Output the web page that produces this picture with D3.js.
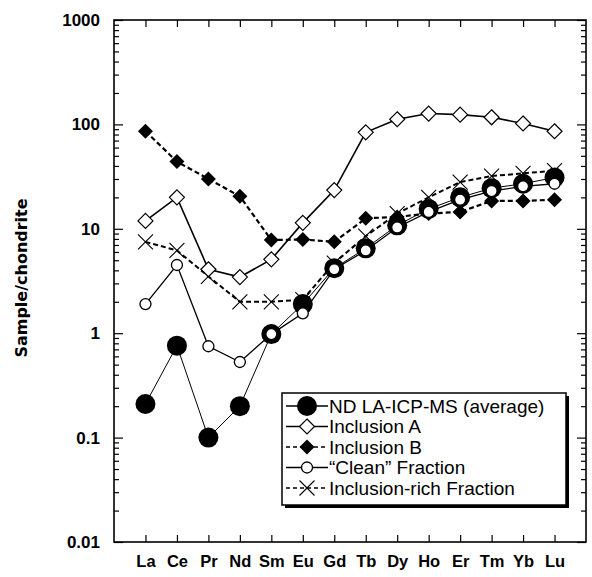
<!DOCTYPE html>
<html>
<head>
<meta charset="utf-8">
<script src="https://cdn.jsdelivr.net/npm/d3@7"></script>
<style>
  body { margin: 0; background: #fff; }
  svg { display: block; }
</style>
</head>
<body>
<div id="chart"></div>
<script>
// REE pattern, chondrite normalised
var elements = ["La", "Ce", "Pr", "Nd", "Sm", "Eu", "Gd", "Tb", "Dy", "Ho", "Er", "Tm", "Yb", "Lu"];
var ndAverage = [0.21, 0.76, 0.10, 0.20, 0.98, 1.9, 4.2, 6.5, 10.8, 15.5, 20, 24.5, 27, 31];
var inclusionA = [11.9, 20, 4.1, 3.45, 5.1, 11.4, 23.5, 84, 112, 127, 124, 117, 102, 86];
var inclusionB = [86, 44, 30, 20.5, 7.8, 7.9, 7.5, 12.6, 13, 14, 14.5, 18.5, 18.5, 19];
var cleanFraction = [1.9, 4.5, 0.75, 0.53, 0.98, 1.55, 4.1, 6.2, 10.3, 14.5, 19, 23, 25.5, 27];
var inclusionRich = [7.5, 6.2, 3.5, 2.0, 2.0, 2.1, 4.7, 8.5, 14, 20, 28, 32, 34, 36];
var majorTicks = [0.01, 0.1, 1, 10, 100, 1000];
var tickLabels = ["0.01", "0.1", "1", "10", "100", "1000"];

var width = 592, height = 577;
var margin = {top: 20, right: 6, bottom: 35, left: 114};

var svg = d3.select("#chart").append("svg")
    .attr("width", width)
    .attr("height", height);

var x = d3.scalePoint()
    .domain(elements)
    .range([margin.left, width - margin.right])
    .padding(1);

var y = d3.scaleLog()
    .domain([0.01, 1000])
    .range([height - margin.bottom, margin.top]);

// minor log ticks 2..9 of each decade
var minorTicks = [];
majorTicks.slice(0, -1).forEach(function(m) {
    for (var k = 2; k <= 9; k++) minorTicks.push(m * k);
});

var series = [
    {name: "Inclusion-rich Fraction", values: inclusionRich, marker: "x", dash: "5,3", width: 2},
    {name: "Inclusion B", values: inclusionB, marker: "diamondFilled", dash: "5,3", width: 2.2},
    {name: "ND LA-ICP-MS (average)", values: ndAverage, marker: "bigCircle", dash: null, width: 1},
    {name: "\u201cClean\u201d Fraction", values: cleanFraction, marker: "circle", dash: null, width: 1.3},
    {name: "Inclusion A", values: inclusionA, marker: "diamond", dash: null, width: 1.6}
];
var legendOrder = ["ND LA-ICP-MS (average)", "Inclusion A", "Inclusion B", "\u201cClean\u201d Fraction", "Inclusion-rich Fraction"];

function drawMarker(g, type) {
    if (type == "bigCircle") {
        g.append("circle").attr("r", 10).attr("fill", "#000");
    } else if (type == "circle") {
        g.append("circle").attr("r", 5.5).attr("fill", "#fff").attr("stroke", "#000").attr("stroke-width", 1.3);
    } else if (type == "diamond") {
        g.append("path").attr("d", "M0,-7.5L7.5,0L0,7.5L-7.5,0Z")
            .attr("fill", "#fff").attr("stroke", "#000").attr("stroke-width", 1.2);
    } else if (type == "diamondFilled") {
        g.append("path").attr("d", "M0,-7.5L7.5,0L0,7.5L-7.5,0Z").attr("fill", "#000");
    } else if (type == "x") {
        g.append("path").attr("d", "M-7.5,-7.5L7.5,7.5M-7.5,7.5L7.5,-7.5")
            .attr("stroke", "#000").attr("stroke-width", 1.1).attr("fill", "none");
    }
}

var line = d3.line()
    .x(function(d, i) { return x(elements[i]); })
    .y(function(d) { return y(d); });

var plot = svg.append("g");
series.forEach(function(s) {
    plot.append("path")
        .datum(s.values)
        .attr("d", line)
        .attr("fill", "none")
        .attr("stroke", "#000")
        .attr("stroke-width", s.width)
        .attr("stroke-dasharray", s.dash);
});
series.forEach(function(s) {
    plot.selectAll(null)
        .data(s.values)
        .enter().append("g")
        .attr("transform", function(d, i) { return "translate(" + x(elements[i]) + "," + y(d) + ")"; })
        .each(function() { drawMarker(d3.select(this), s.marker); });
});

// axes, all ticks pointing inward
var plotLeft = margin.left, plotRight = width - margin.right;
var plotTop = margin.top, plotBottom = height - margin.bottom;

svg.append("g")
    .attr("transform", "translate(" + plotLeft + ",0)")
    .call(d3.axisLeft(y).tickValues(majorTicks).tickSize(-9).tickPadding(14)
        .tickFormat(function(d, i) { return tickLabels[i]; }));
svg.append("g")
    .attr("transform", "translate(" + plotLeft + ",0)")
    .call(d3.axisLeft(y).tickValues(minorTicks).tickSize(-5).tickFormat(""));
svg.append("g")
    .attr("transform", "translate(" + plotRight + ",0)")
    .call(d3.axisRight(y).tickValues(majorTicks).tickSize(-9).tickFormat(""));
svg.append("g")
    .attr("transform", "translate(" + plotRight + ",0)")
    .call(d3.axisRight(y).tickValues(minorTicks).tickSize(-5).tickFormat(""));
svg.append("g")
    .attr("class", "xaxis")
    .attr("transform", "translate(0," + plotBottom + ")")
    .call(d3.axisBottom(x).tickSize(-7).tickPadding(13));
svg.append("g")
    .attr("transform", "translate(0," + plotTop + ")")
    .call(d3.axisTop(x).tickSize(-7).tickFormat(""));

svg.selectAll(".domain").remove();
svg.selectAll(".tick line").attr("stroke", "#000").attr("stroke-width", 1.2);
svg.selectAll(".tick text")
    .attr("fill", "#000")
    .style("font-family", "'Liberation Sans', Arial, sans-serif")
    .style("font-size", "17px")
    .style("font-weight", "bold");
svg.selectAll(".xaxis .tick text").style("font-size", "16.5px");

svg.append("rect")
    .attr("x", plotLeft).attr("y", plotTop)
    .attr("width", plotRight - plotLeft).attr("height", plotBottom - plotTop)
    .attr("fill", "none").attr("stroke", "#000").attr("stroke-width", 1.6);

svg.append("text")
    .attr("transform", "translate(27," + ((plotTop + plotBottom) / 2 - 3) + ") rotate(-90)")
    .attr("text-anchor", "middle")
    .style("font-family", "'DejaVu Sans', sans-serif")
    .style("font-size", "16px")
    .style("font-weight", "bold")
    .text("Sample/chondrite");

// legend with drop shadow
var lx = 282, ly = 393, lw = 284, lh = 112;
var legend = svg.append("g");
legend.append("rect").attr("x", lx + 3).attr("y", ly + 3).attr("width", lw).attr("height", lh).attr("fill", "#000");
legend.append("rect").attr("x", lx).attr("y", ly).attr("width", lw).attr("height", lh)
    .attr("fill", "#fff").attr("stroke", "#000").attr("stroke-width", 1.5);

legendOrder.forEach(function(name, i) {
    var s = series.filter(function(d) { return d.name == name; })[0];
    var row = legend.append("g").attr("transform", "translate(" + lx + "," + (ly + 13 + i * 20.5) + ")");
    row.append("line")
        .attr("x1", 4).attr("x2", 46)
        .attr("stroke", "#000").attr("stroke-width", s.dash ? 1.6 : 1.3)
        .attr("stroke-dasharray", s.dash ? "4,3" : null);
    var m = row.append("g").attr("transform", "translate(25,0)");
    drawMarker(m, s.marker);
    row.append("text")
        .attr("x", 47).attr("y", 6.5)
        .style("font-family", "'Liberation Sans', Arial, sans-serif")
        .style("font-size", "19px")
        .text(name);
});
</script>
</body>
</html>
